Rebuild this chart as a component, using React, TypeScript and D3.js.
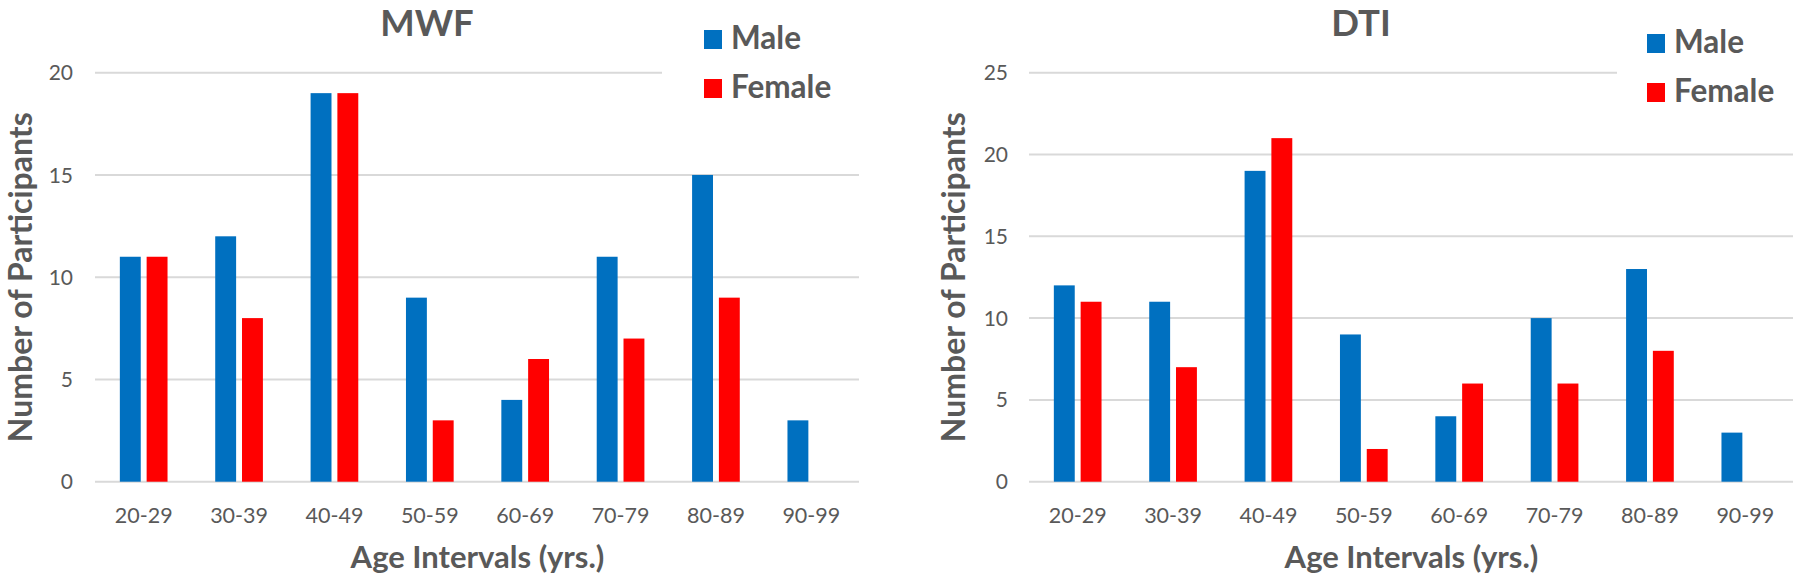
import React from "react";
import * as d3 from "d3";

const categories = ["20-29", "30-39", "40-49", "50-59", "60-69", "70-79", "80-89", "90-99"];
const seriesNames = ["Male", "Female"];
const seriesColors = ["#0070C0", "#FF0000"];

const mwfMale = [11, 12, 19, 9, 4, 11, 15, 3];
const mwfFemale = [11, 8, 19, 3, 6, 7, 9, 0];
const dtiMale = [12, 11, 19, 9, 4, 10, 13, 3];
const dtiFemale = [11, 7, 21, 2, 6, 6, 8, 0];

const mwfTicks = [0, 5, 10, 15, 20];
const dtiTicks = [0, 5, 10, 15, 20, 25];

const TEXT = "#595959";
const GRID = "#D9D9D9";
const FONT = "Lato, 'Open Sans', sans-serif";

type ChartProps = {
  title: string;
  titleX: number;
  male: number[];
  female: number[];
  ticks: number[];
  plotLeft: number;
  plotRight: number;
  tickRight: number;
  yTitleX: number;
  legendX: number;
  legendY: number;
  legendCut: number;
};

function Chart(p: ChartProps) {
  const top = 72.7;
  const bottom = 481.7;
  const yMax = p.ticks[p.ticks.length - 1];
  const x0 = d3
    .scaleBand<string>()
    .domain(categories)
    .range([p.plotLeft, p.plotRight])
    .paddingInner(0.5)
    .paddingOuter(0.25);
  const x1 = d3
    .scaleBand<string>()
    .domain(seriesNames)
    .range([0, x0.bandwidth()])
    .paddingInner(0.22);
  const y = d3.scaleLinear().domain([0, yMax]).range([bottom, top]);
  const values = [p.male, p.female];
  const plotMid = (p.plotLeft + p.plotRight) / 2;

  return (
    <g>
      {p.ticks.map((t) => (
        <line
          key={"g" + t}
          x1={p.plotLeft - 1}
          x2={t === yMax ? p.legendCut : p.plotRight}
          y1={y(t)}
          y2={y(t)}
          stroke={GRID}
          strokeWidth={2}
        />
      ))}
      {p.ticks.map((t) => (
        <text
          key={"t" + t}
          x={p.tickRight}
          y={y(t)}
          dy="0.36em"
          textAnchor="end"
          fontSize={21}
          fill={TEXT}
          fontFamily={FONT}
        >
          {t}
        </text>
      ))}
      {categories.map((c, i) => (
        <g key={c} transform={`translate(${x0(c)},0)`}>
          {seriesNames.map((s, k) =>
            values[k][i] > 0 ? (
              <rect
                key={s}
                x={x1(s)}
                y={y(values[k][i])}
                width={x1.bandwidth()}
                height={bottom - y(values[k][i])}
                fill={seriesColors[k]}
              />
            ) : null
          )}
        </g>
      ))}
      {categories.map((c) => (
        <text
          key={"x" + c}
          x={(x0(c) as number) + x0.bandwidth() / 2}
          y={523}
          textAnchor="middle"
          fontSize={21.5}
          fill={TEXT}
          fontFamily={FONT}
        >
          {c}
        </text>
      ))}
      <text
        x={plotMid}
        y={568}
        textAnchor="middle"
        fontSize={31}
        fontWeight="bold"
        fill={TEXT}
        fontFamily={FONT}
      >
        Age Intervals (yrs.)
      </text>
      <text
        transform={`translate(${p.yTitleX},${(top + bottom) / 2}) rotate(-90)`}
        textAnchor="middle"
        fontSize={32}
        fontWeight="bold"
        fill={TEXT}
        fontFamily={FONT}
      >
        Number of Participants
      </text>
      <text
        x={p.titleX}
        y={36}
        textAnchor="middle"
        fontSize={36.5}
        fontWeight="bold"
        fill={TEXT}
        fontFamily={FONT}
      >
        {p.title}
      </text>
      {seriesNames.map((s, k) => (
        <g key={"l" + s} transform={`translate(${p.legendX},${p.legendY + k * 49})`}>
          <rect x={0} y={0} width={18} height={19} fill={seriesColors[k]} />
          <text
            x={27}
            y={19}
            fontSize={31.5}
            fontWeight="bold"
            fill={TEXT}
            fontFamily={FONT}
          >
            {s}
          </text>
        </g>
      ))}
    </g>
  );
}

export default function App() {
  return (
    <svg
      width={1800}
      height={581}
      style={{ position: "absolute", left: 0, top: 0, background: "#fff" }}
    >
      <rect x={0} y={0} width={1800} height={581} fill="#fff" />
      <Chart
        title="MWF"
        titleX={427}
        male={mwfMale}
        female={mwfFemale}
        ticks={mwfTicks}
        plotLeft={96}
        plotRight={859}
        tickRight={73}
        yTitleX={32}
        legendX={704}
        legendY={30}
        legendCut={662}
      />
      <Chart
        title="DTI"
        titleX={1361}
        male={dtiMale}
        female={dtiFemale}
        ticks={dtiTicks}
        plotLeft={1030}
        plotRight={1793}
        tickRight={1008}
        yTitleX={965}
        legendX={1647}
        legendY={34}
        legendCut={1617}
      />
    </svg>
  );
}
